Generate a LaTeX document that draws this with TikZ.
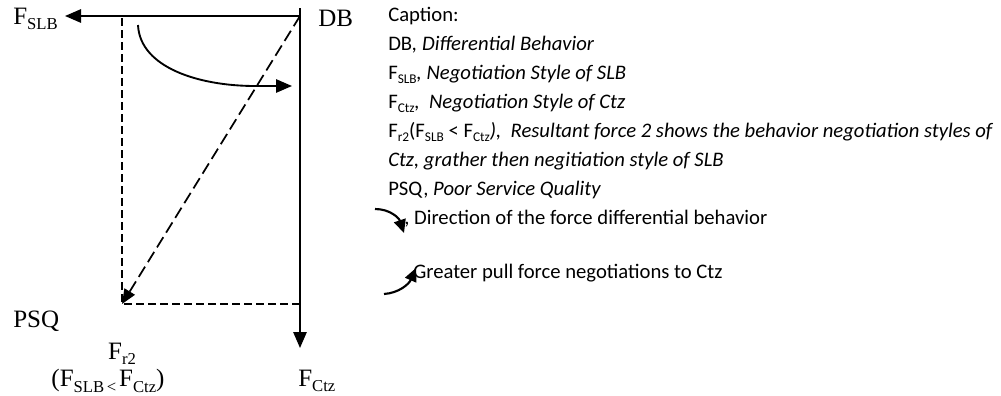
\documentclass[tikz,border=0pt]{standalone}
\usepackage{fontspec}
\setmainfont{Carlito}
\newfontfamily\tnr{Liberation Serif}
\usetikzlibrary{arrows.meta}

% subscripts for the serif labels and for the legend text
\newcommand{\lsub}[1]{\raisebox{-0.22em}{\fontsize{12.5}{12.5}\selectfont #1}}
\newcommand{\csub}[1]{\raisebox{-0.2em}{\fontsize{10}{10}\selectfont #1}}

\begin{document}
\begin{tikzpicture}[x=0.75pt, y=-0.75pt,
  lab/.style={font=\tnr\fontsize{18.75}{20}\selectfont, inner sep=0},
  legendline/.style={font=\fontsize{15.5}{18}\selectfont, anchor=west, inner sep=0},
  force/.style={line width=1.4pt, -{Triangle[length=12pt,width=10pt]}},
  guide/.style={line width=1.3pt, dash pattern=on 6pt off 3pt},
  guidearrow/.style={line width=1.3pt, dash pattern=on 9pt off 4pt, -{Triangle[length=11pt,width=9pt]}},
  curvearrow/.style={line width=1.4pt, -{Triangle[length=12pt,width=10pt]}},
  keyarrow/.style={line width=1.6pt, -{Triangle[length=10pt,width=9pt]}}]
\useasboundingbox (0,0) rectangle (1001,396);

% ---- force diagram ----
\coordinate (db) at (300,16);
\coordinate (top) at (300,8);
\coordinate (slbtip) at (65,16);
\coordinate (ctztip) at (300,348);
\coordinate (psq) at (122,304);
\coordinate (dtop) at (122,18);
\coordinate (dright) at (300,304);
\coordinate (bstart) at (138,25);
\coordinate (bmid) at (255,86);
\coordinate (btip) at (292,86);

\draw[force] (db) -- (slbtip);
\draw[force] (top) -- (ctztip);
\draw[guide] (dtop) -- (psq) -- (dright);
\draw[guidearrow] (db) -- (psq);
\draw[curvearrow] (bstart) .. controls (140,68) and (200,86) .. (bmid) -- (btip);

\node[lab, anchor=west] (fslb) at (13,19) {F\lsub{SLB}};
\node[lab, anchor=west] (dblab) at (318,18) {DB};
\node[lab, anchor=west] (psqlab) at (13,321) {PSQ};
\node[lab] (fr2) at (122,354) {F\lsub{r2}};
\node[lab] (cmp) at (108,381) {(F\lsub{SLB\,<\,}F\lsub{Ctz})};
\node[lab, anchor=west] (fctz) at (298,381) {F\lsub{Ctz}};

% ---- legend ----
\node[legendline] (c0) at (388,16) {Caption:};
\node[legendline] (c1) at (388,45) {DB\textit{, Differential Behavior}};
\node[legendline] (c2) at (388,74) {F\csub{SLB}\textit{, Negotiation Style of SLB}};
\node[legendline] (c3) at (388,103) {F\csub{Ctz}\textit{,\ \ Negotiation Style of Ctz}};
\node[legendline] (c4) at (388,132) {F\csub{r2}(F\csub{SLB} < F\csub{Ctz}\textit{),\ \ Resultant force 2 shows the behavior negotiation styles of}};
\node[legendline] (c5) at (388,161) {\textit{Ctz, grather then negitiation style of SLB}};
\node[legendline] (c6) at (388,190) {PSQ, \textit{Poor Service Quality}};
\node[legendline] (c7) at (404,219) {, Direction of the force differential behavior};
\node[legendline] (c8) at (413,273) {Greater pull force negotiations to Ctz};

\coordinate (k1s) at (375,209);
\coordinate (k1e) at (404,233);
\coordinate (k2s) at (384,294);
\coordinate (k2e) at (416,268);
\draw[keyarrow] (k1s) .. controls (390,209) and (399,218) .. (k1e);
\draw[keyarrow] (k2s) .. controls (399,293) and (409,284) .. (k2e);
\end{tikzpicture}
\end{document}
